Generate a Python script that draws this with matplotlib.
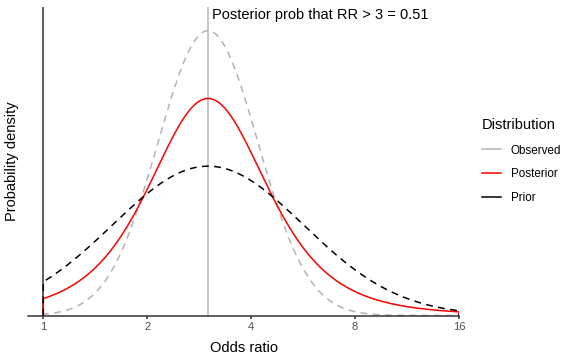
import math
import numpy as np
import matplotlib
matplotlib.use('Agg')
import matplotlib.pyplot as plt
from matplotlib.lines import Line2D
from matplotlib.ticker import NullLocator

plt.rcParams['font.family'] = ['Liberation Sans', 'DejaVu Sans']

# Verteilungen auf der log(OR)-Skala
distributions = ['Observed', 'Posterior', 'Prior']
centre_or = [3.0, 3.0, 3.0]
scale_log = [0.334, 0.412, 0.637]
dof = [None, 4, None]          # None = Normalverteilung, sonst t-Verteilung
colors = ['#B3B3B3', '#FF0000', '#000000']
styles = ['dashed', 'solid', 'dashed']

threshold = 3
prob_label = 'Posterior prob that RR > 3 = 0.51'
or_ticks = [1, 2, 4, 8, 16]
or_range = [1, 16]


def density(x, centre, scale, nu):
    z = (np.log(x) - np.log(centre)) / scale
    if nu is None:
        return np.exp(-0.5 * z**2) / (scale * np.sqrt(2 * np.pi))
    c = math.gamma((nu + 1) / 2) / (math.sqrt(nu * math.pi) * math.gamma(nu / 2))
    return c * (1 + z**2 / nu) ** (-(nu + 1) / 2) / scale


fig = plt.figure(figsize=(5.78, 3.58), dpi=100)
W, H = 578, 358
ax = fig.add_axes([28 / W, 1 - 315.5 / H, (459 - 28) / W, (315.5 - 7.3) / H])

xs = np.geomspace(or_range[0], or_range[1], 500)

ax.axvline(threshold, color='#BEBEBE', lw=1.2, zorder=1)
ax.axvline(1, color='#333333', lw=1.1, zorder=1)

ymax = 0
for name, m, s, nu, c, ls in zip(distributions, centre_or, scale_log, dof, colors, styles):
    y = density(xs, m, s, nu)
    ymax = max(ymax, y.max())
    line, = ax.plot(np.r_[xs[0], xs, xs[-1]], np.r_[0, y, 0], color=c, lw=1.1, zorder=2)
    if ls == 'dashed':
        line.set_dashes((4.5, 3.5))

ax.set_xscale('log', base=2)
ax.set_xlim(2 ** (-15.3 / 104), 16)
ax.set_ylim(0, ymax * 308.2 / 284.8)
ax.set_xticks(or_ticks)
ax.set_xticklabels([str(t) for t in or_ticks])
ax.xaxis.set_minor_locator(NullLocator())
ax.set_yticks([])

for sp in ['top', 'right', 'left']:
    ax.spines[sp].set_visible(False)
ax.spines['bottom'].set_color('#333333')
ax.spines['bottom'].set_linewidth(1.1)
ax.tick_params(axis='x', colors='#333333', labelcolor='#4D4D4D', length=2.2,
               width=1.1, labelsize=8, pad=2.2)

ax.set_xlabel('Odds ratio', fontsize=10.5, va='baseline')
ax.xaxis.set_label_coords(0.5, (315.5 - 351.9) / 308.2)
ax.set_ylabel('Probability density', fontsize=10.5, va='center')
ax.yaxis.set_label_coords((11.7 - 28) / 431, 0.5)

ax.annotate(prob_label, xy=(threshold, 1), xycoords=('data', 'axes fraction'),
            xytext=(4, -12), textcoords='offset pixels', ha='left', va='baseline',
            fontsize=10.5)

handles = [Line2D([], [], color=c, lw=1.1) for c in colors]
ax.legend(handles, distributions, title='Distribution', loc='upper left',
          bbox_to_anchor=(482 / W, 1 - 118 / H), bbox_transform=fig.transFigure,
          frameon=False, fontsize=8.4, title_fontsize=10.5, handlelength=1.6,
          handletextpad=0.85, labelspacing=1.0, borderpad=0, borderaxespad=0,
          alignment='left')
leg = ax.get_legend()
leg._legend_box.sep = 9

fig.savefig('out.png', dpi=100)
